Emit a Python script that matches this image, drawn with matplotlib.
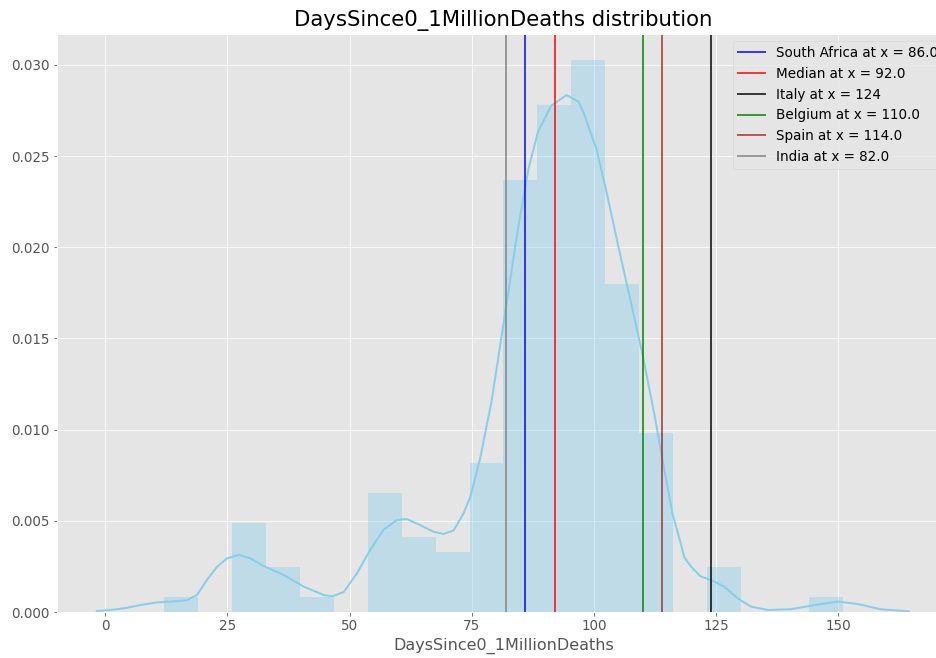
import numpy as np
import matplotlib
matplotlib.use("Agg")
import matplotlib.pyplot as plt

plt.style.use("ggplot")

# Histogram of days since 0.1M deaths: bin range and per-bin counts
days_min, days_max, n_bins = 12.0, 151.0, 20
bin_counts = [1, 0, 6, 3, 1, 0, 8, 5, 4, 10, 29, 34, 37, 22, 12, 0, 3, 0, 0, 1]

# Kernel density estimate of the same distribution
kde_x = [-1.8, 1.0, 3.8, 7.2, 10.6, 13.3, 16.7, 18.8, 20.8, 22.9, 24.9, 27.3,
         29.7, 32.4, 36.5, 40.6, 44.7, 46.5, 48.8, 51.5, 54.2, 56.9, 59.7,
         61.7, 64.4, 67.2, 69.2, 71.3, 73.3, 74.7, 76.7, 79.1, 81.8, 84.5,
         86.6, 88.6, 91.3, 94.4, 96.8, 97.8, 100.5, 102.5, 105.1, 107.8,
         110.0, 112.5, 114.0, 116.1, 117.8, 118.5, 119.9, 121.8, 124.3,
         126.7, 129.4, 132.2, 135.6, 140.3, 145.1, 149.9, 154.0, 158.7, 164.5]
kde_y = [0.00005, 0.00011, 0.00020, 0.00038, 0.00053, 0.00057, 0.00064,
         0.00095, 0.00176, 0.00249, 0.00294, 0.00313, 0.00294, 0.00252,
         0.00203, 0.00139, 0.00093, 0.00086, 0.00110, 0.00212, 0.00340,
         0.00450, 0.00505, 0.00510, 0.00477, 0.00440, 0.00428, 0.00448,
         0.00540, 0.00630, 0.00840, 0.01162, 0.01635, 0.02107, 0.02429,
         0.02637, 0.02778, 0.02835, 0.02800, 0.02745, 0.02542, 0.02315,
         0.01994, 0.01672, 0.01408, 0.01068, 0.00840, 0.00538, 0.00375,
         0.00300, 0.00249, 0.00196, 0.00172, 0.00139, 0.00075, 0.00029,
         0.00011, 0.00015, 0.00038, 0.00057, 0.00044, 0.00015, 0.00004]

# Reference markers
marker_names = ["South Africa", "Median", "Italy", "Belgium", "Spain", "India"]
marker_values = [86.0, 92.0, 124, 110.0, 114.0, 82.0]
marker_colors = ["blue", "red", "black", "green", "brown", "gray"]

x_ticks = [0, 25, 50, 75, 100, 125, 150]

fig = plt.figure(figsize=(936 / 72, 658 / 72), dpi=72)
ax = fig.add_axes([57 / 936, 1 - 612 / 658, 893 / 936, 578 / 658])

edges = np.linspace(days_min, days_max, n_bins + 1)
centers = (edges[:-1] + edges[1:]) / 2
ax.hist(centers, bins=edges, weights=bin_counts, density=True,
        color="skyblue", alpha=0.4, linewidth=0)
ax.plot(kde_x, kde_y, color="skyblue", linewidth=2,
        solid_joinstyle="round", solid_capstyle="round")

for name, val, col in zip(marker_names, marker_values, marker_colors):
    ax.axvline(val, color=col, alpha=0.75, linewidth=2,
               label=f"{name} at x = {val}")

ax.set_xticks(x_ticks)
ax.set_xlim(-9.9, 172.9)
ax.set_ylim(0, 0.0317)
ax.tick_params(labelsize=13.5)
ax.set_xlabel("DaysSince0_1MillionDeaths", fontsize=16, color="#555555",
              labelpad=5)
ax.set_title("DaysSince0_1MillionDeaths distribution", fontsize=21.3, pad=8)
ax.legend(loc="upper right", fontsize=13.5)

fig.savefig("out.png", dpi=72)
